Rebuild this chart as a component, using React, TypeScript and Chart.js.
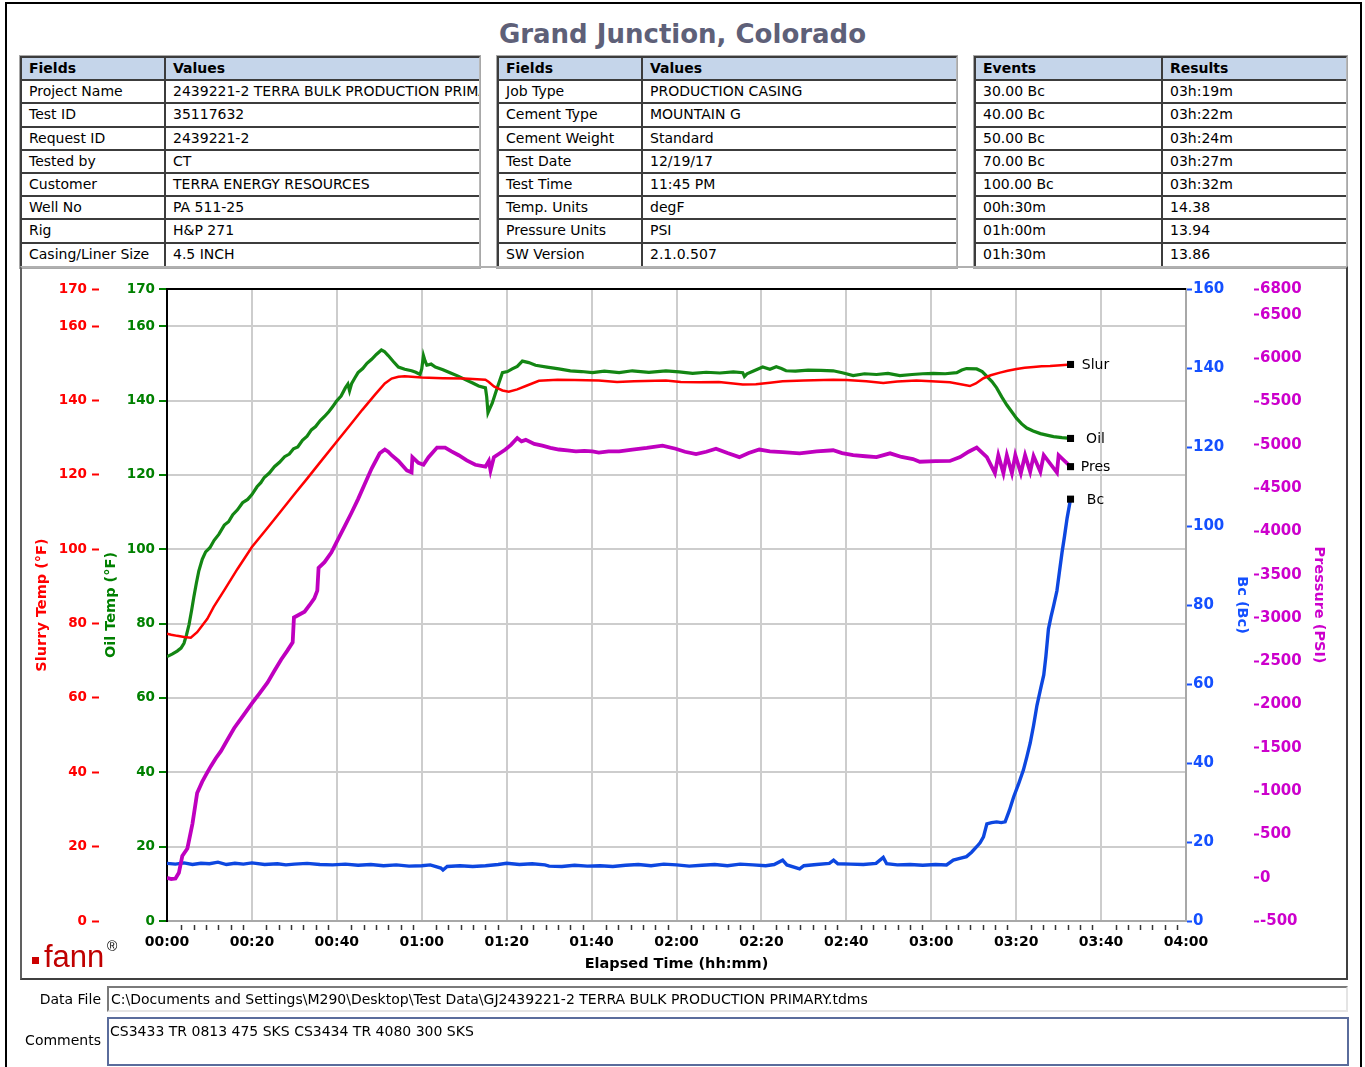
import React, { useEffect, useRef } from "react";
import { Chart, registerables } from "chart.js";

Chart.register(...registerables);

const FONT = '"DejaVu Sans", Verdana, sans-serif';

// ---------- table data ----------
const table1Head = ["Fields", "Values"];
const table1Fields = ["Project Name", "Test ID", "Request ID", "Tested by", "Customer", "Well No", "Rig", "Casing/Liner Size"];
const table1Values = ["2439221-2 TERRA BULK PRODUCTION PRIMARY", "35117632", "2439221-2", "CT", "TERRA ENERGY RESOURCES", "PA 511-25", "H&P 271", "4.5 INCH"];

const table2Head = ["Fields", "Values"];
const table2Fields = ["Job Type", "Cement Type", "Cement Weight", "Test Date", "Test Time", "Temp. Units", "Pressure Units", "SW Version"];
const table2Values = ["PRODUCTION CASING", "MOUNTAIN G", "Standard", "12/19/17", "11:45 PM", "degF", "PSI", "2.1.0.507"];

const table3Head = ["Events", "Results"];
const table3Events = ["30.00 Bc", "40.00 Bc", "50.00 Bc", "70.00 Bc", "100.00 Bc", "00h:30m", "01h:00m", "01h:30m"];
const table3Results = ["03h:19m", "03h:22m", "03h:24m", "03h:27m", "03h:32m", "14.38", "13.94", "13.86"];

// ---------- chart data (minutes / values) ----------
const slurTime = [0, 1, 2.4, 4, 5.6, 7.1, 8.3, 9.5, 11, 13.5, 16.6, 20, 23.7, 27, 30, 33, 36, 40, 43, 46, 49, 51.3, 52.9, 54.5, 56, 60, 65, 70, 75, 75.8, 77, 79, 80.5, 82.5, 84.5, 87.6, 92, 96, 101.7, 106, 110, 117.5, 121, 125.4, 130, 135.6, 138.7, 142, 145, 150, 156.9, 160, 164.7, 168.7, 172, 176.5, 180, 184.4, 189.1, 190.5, 192.3, 194, 196.2, 198, 200.1, 202, 204.1, 206, 208, 210.5, 212.8];
const slurTemp = [77.3, 77.0, 76.7, 76.4, 76.2, 77.7, 79.5, 81.3, 84.5, 89.0, 94.7, 100.6, 105.8, 110.5, 114.8, 119.0, 123.3, 129.0, 133.2, 137.5, 141.6, 144.6, 145.9, 146.4, 146.5, 146.2, 146.0, 145.9, 145.6, 145.0, 143.8, 142.7, 142.4, 143.0, 143.9, 145.3, 145.6, 145.5, 145.4, 145.0, 145.2, 145.4, 145.0, 144.9, 145.0, 144.3, 144.4, 144.8, 145.2, 145.4, 145.6, 145.5, 145.2, 144.7, 145.1, 145.4, 145.2, 144.9, 143.9, 144.6, 146.0, 146.8, 147.5, 148.0, 148.5, 148.8, 149.0, 149.2, 149.3, 149.5, 149.7];

const oilTime = [0, 1.2, 2.4, 3.3, 4, 4.6, 5.2, 5.8, 6.3, 6.9, 7.5, 8.3, 9.1, 10.1, 11.1, 12.2, 13.5, 14.5, 15.5, 16.6, 17.8, 19, 20, 21.2, 22.1, 22.9, 24.1, 25.3, 26.5, 27.7, 28.8, 29.8, 30.8, 31.9, 33, 34, 35, 36.1, 37.1, 38.1, 39, 39.9, 41, 42, 42.6, 43, 43.5, 44.2, 45, 46.1, 47.1, 48.2, 49.3, 50.5, 51.2, 52.1, 53.3, 54.5, 56, 57.6, 58.6, 59.6, 60, 60.4, 60.8, 61.2, 62.2, 63.2, 65, 66.8, 68.7, 70.5, 72, 73.4, 75, 75.3, 75.6, 76.1, 76.6, 77.8, 79, 80.2, 81.3, 82.5, 83.7, 85.2, 86.8, 89.5, 92.3, 95, 97.6, 100.2, 103, 106.5, 109.6, 113.5, 117.5, 120.6, 123.8, 127, 130.2, 133.4, 135.6, 136, 136.6, 138, 140.3, 142, 143.5, 144.7, 145.8, 148, 151, 154, 156.9, 159.3, 161.6, 164.3, 167.1, 169.8, 172.6, 175.5, 178, 180.5, 183.3, 186, 187.2, 188.3, 190.7, 192, 193.1, 194.3, 195.4, 196.6, 197.8, 199, 200.1, 201.3, 202.5, 204, 205.7, 207.2, 208.8, 210.8, 212.8];
const oilTemp = [71.1, 71.8, 72.6, 73.4, 74.7, 77.0, 79.8, 83.6, 87.0, 90.8, 94.2, 97.3, 99.3, 100.4, 102.4, 104.0, 106.5, 107.4, 109.3, 110.6, 112.5, 113.4, 114.7, 116.8, 117.9, 119.3, 120.5, 122.2, 123.4, 124.9, 125.6, 127.0, 127.5, 129.3, 130.4, 132.1, 133.0, 134.6, 135.7, 137.0, 138.3, 139.8, 141.2, 143.4, 144.4, 142.6, 144.6, 146.0, 147.5, 148.6, 150.0, 151.1, 152.4, 153.6, 153.2, 152.1, 150.5, 149.0, 148.4, 148.0, 147.6, 147.0, 148.5, 152.1, 150.6, 149.5, 149.8, 149.0, 148.3, 147.4, 146.5, 145.5, 144.7, 143.9, 143.4, 141.0, 136.7, 138.0, 139.3, 143.5, 147.5, 147.8, 148.5, 149.2, 150.6, 150.2, 149.5, 149.0, 148.5, 148.0, 147.8, 147.5, 147.9, 147.5, 148.0, 147.6, 148.0, 147.7, 147.3, 147.6, 147.4, 147.7, 147.5, 146.5, 147.2, 147.9, 149.0, 148.4, 149.1, 148.6, 148.0, 147.9, 148.2, 148.1, 148.0, 147.4, 146.7, 147.2, 147.0, 147.3, 146.7, 147.0, 147.2, 147.3, 147.2, 147.5, 148.2, 148.6, 148.5, 147.8, 146.5, 145.1, 143.4, 141.0, 138.8, 136.9, 135.2, 133.7, 132.6, 131.8, 131.1, 130.7, 130.3, 130.0, 129.8];

const presTime = [0, 1, 2, 2.8, 3.6, 4.8, 6, 7.1, 8.3, 9.3, 10.3, 11.5, 12.7, 14.2, 15.8, 17.9, 20, 21.8, 23.7, 25.3, 26.9, 28.3, 29.6, 29.9, 31.2, 32.4, 33.6, 34.7, 35.4, 35.7, 37.1, 38.7, 40.3, 41.9, 43.4, 45, 46.6, 48.2, 50.1, 51.3, 52.1, 52.9, 54.5, 56.5, 57.6, 57.8, 59.2, 60.4, 61.6, 63.6, 65.5, 67, 68.7, 70.6, 72.6, 75, 75.8, 76.2, 77, 78.3, 79.7, 81, 82.5, 83.5, 84.5, 86.5, 88.4, 90.3, 92.3, 94.3, 96.3, 98.3, 100.2, 101.7, 104, 106.5, 109.6, 113, 116.7, 119.8, 122, 124.6, 127, 129.3, 132, 134.8, 137, 139.5, 142, 145, 149, 153, 156.9, 159, 161.6, 164.5, 167.1, 170.3, 173, 175.7, 177.3, 181, 184.4, 186.8, 188.8, 190.7, 193.1, 195, 195.8, 197, 197.8, 199, 199.8, 201.1, 202.1, 203.3, 204.1, 205.7, 206.5, 209.6, 210, 212.8];
const presVal = [0, -15, -10, 57, 250, 338, 625, 978, 1110, 1200, 1286, 1380, 1462, 1590, 1727, 1870, 2014, 2130, 2256, 2390, 2521, 2620, 2719, 3006, 3040, 3072, 3150, 3226, 3315, 3579, 3645, 3756, 3910, 4064, 4210, 4373, 4550, 4726, 4902, 4946, 4920, 4880, 4814, 4704, 4682, 4858, 4792, 4770, 4858, 4968, 4968, 4925, 4880, 4820, 4770, 4748, 4814, 4704, 4858, 4900, 4946, 5000, 5079, 5040, 5057, 5010, 4990, 4965, 4946, 4935, 4924, 4930, 4924, 4911, 4925, 4924, 4946, 4965, 4990, 4955, 4920, 4893, 4920, 4955, 4905, 4858, 4905, 4946, 4925, 4915, 4902, 4925, 4937, 4905, 4880, 4868, 4858, 4902, 4860, 4836, 4805, 4812, 4814, 4858, 4920, 4968, 4858, 4673, 4880, 4673, 4880, 4673, 4880, 4673, 4880, 4690, 4870, 4690, 4880, 4680, 4880, 4748];

const bcTime = [0, 2, 4, 6, 8, 10, 12, 14, 16, 18, 20, 23, 26, 28, 30, 33, 36, 39, 42, 45, 48, 51, 54, 57, 60, 62, 64.5, 65, 66, 69, 72, 75, 78, 80, 83, 86, 89, 90, 93, 96, 99, 102, 105, 108, 111, 114, 117, 120, 123, 126, 129, 132, 135, 138, 141, 143, 145, 146, 149, 150, 153, 156, 157, 158, 161, 164, 167, 168.7, 169.5, 172, 175, 178, 181, 183.6, 185.2, 186.5, 188.3, 189.5, 190.7, 191.5, 192.3, 193.1, 194.2, 195.4, 196.5, 197.4, 198.4, 199.4, 200.5, 201.7, 202.5, 203.3, 204.1, 204.9, 205.7, 206.5, 207, 207.6, 208.2, 208.8, 209.6, 210.2, 210.8, 211.4, 212, 212.8];
const bcVal = [14.6, 14.4, 14.7, 14.3, 14.6, 14.5, 14.9, 14.3, 14.6, 14.4, 14.7, 14.3, 14.5, 14.2, 14.4, 14.6, 14.3, 14.2, 14.4, 14.1, 14.3, 14.0, 14.2, 13.9, 14.0, 14.2, 13.4, 12.9, 13.8, 14.0, 13.8, 14.0, 14.3, 14.6, 14.3, 14.5, 14.2, 13.9, 13.8, 14.1, 13.9, 14.0, 13.8, 14.1, 14.3, 14.0, 14.4, 14.2, 13.9, 14.1, 14.3, 14.0, 14.4, 14.2, 14.0, 14.3, 15.4, 14.2, 13.2, 14.0, 14.3, 14.6, 15.4, 14.5, 14.4, 14.3, 14.6, 16.1, 14.5, 14.2, 14.3, 14.1, 14.3, 14.2, 15.4, 15.8, 16.3, 17.4, 18.8, 19.8, 21.3, 24.6, 24.9, 25.1, 24.9, 25.1, 28.0, 31.4, 34.5, 38.2, 41.5, 45.0, 49.5, 54.6, 58.5, 62.3, 67.0, 73.9, 77.0, 79.7, 83.6, 88.5, 93.3, 97.5, 102.0, 106.8];

// ---------- axes ----------
const tempTicks = [0, 20, 40, 60, 80, 100, 120, 140, 160, 170];
const bcTicks = [0, 20, 40, 60, 80, 100, 120, 140, 160];
const presTicks = [-500, 0, 500, 1000, 1500, 2000, 2500, 3000, 3500, 4000, 4500, 5000, 5500, 6000, 6500, 6800];
const timeTicks = [0, 20, 40, 60, 80, 100, 120, 140, 160, 180, 200, 220, 240];

const minorTickMinutes: number[] = [];
for (let m = 0; m < 240; m += 20) {
  for (let k = 1; k <= 6; k++) minorTickMinutes.push(m + 0.5 + k * 2.9);
}

const fmtTime = (v: number) => {
  const h = Math.floor(v / 60);
  const m = Math.round(v % 60);
  return String(h).padStart(2, "0") + ":" + String(m).padStart(2, "0");
};

const toXY = (ts: number[], vs: number[]) => ts.map((t, i) => ({ x: t, y: vs[i] }));

const endPoint = (ctx: any) => (ctx.dataIndex === ctx.dataset.data.length - 1 ? 5 : 0);

const CANVAS_W = 1324;
const CANVAS_H = 710;

const frameLines = {
  id: "frameLines",
  afterDraw(chart: any) {
    const { ctx, chartArea, scales } = chart;
    ctx.save();
    ctx.strokeStyle = "#000";
    ctx.lineWidth = 2;
    ctx.beginPath();
    ctx.moveTo(chartArea.left - 1, chartArea.top);
    ctx.lineTo(chartArea.right, chartArea.top);
    ctx.stroke();
    const xs = scales.x;
    ctx.strokeStyle = "#333";
    ctx.lineWidth = 1.5;
    minorTickMinutes.forEach((v) => {
      const px = Math.round(xs.getPixelForValue(v)) + 0.5;
      ctx.beginPath();
      ctx.moveTo(px, chartArea.bottom + 4);
      ctx.lineTo(px, chartArea.bottom + 9);
      ctx.stroke();
    });
    ctx.fillStyle = "#000";
    ctx.font = "14px " + FONT;
    ctx.textAlign = "center";
    ctx.textBaseline = "middle";
    chart.data.datasets.forEach((ds: any, i: number) => {
      const meta = chart.getDatasetMeta(i);
      const last = meta.data[meta.data.length - 1];
      if (last) ctx.fillText(ds.label, last.x + 25, last.y + 1);
    });
    ctx.restore();
  },
};

const tickFont = { family: FONT, size: 13.5, weight: "bold" as const };
const rightTickFont = { family: FONT, size: 15, weight: "bold" as const };
const titleFont = { family: FONT, size: 14.5, weight: "bold" as const };

function TrendChart() {
  const ref = useRef<HTMLCanvasElement | null>(null);
  useEffect(() => {
    if (!ref.current) return;
    const chart = new Chart(ref.current, {
      type: "line",
      data: {
        datasets: [
          {
            label: "Slur",
            data: toXY(slurTime, slurTemp),
            yAxisID: "ySlur",
            borderColor: "#ff0000",
            borderWidth: 2.5,
            pointRadius: endPoint,
            pointStyle: "rect",
            pointBackgroundColor: "#000",
            pointBorderWidth: 0,
            tension: 0,
          },
          {
            label: "Oil",
            data: toXY(oilTime, oilTemp),
            yAxisID: "yOil",
            borderColor: "#138613",
            borderWidth: 3.2,
            pointRadius: endPoint,
            pointStyle: "rect",
            pointBackgroundColor: "#000",
            pointBorderWidth: 0,
            tension: 0,
          },
          {
            label: "Pres",
            data: toXY(presTime, presVal),
            yAxisID: "yPres",
            borderColor: "#bf00bf",
            borderWidth: 3.8,
            pointRadius: endPoint,
            pointStyle: "rect",
            pointBackgroundColor: "#000",
            pointBorderWidth: 0,
            tension: 0,
          },
          {
            label: "Bc",
            data: toXY(bcTime, bcVal),
            yAxisID: "yBc",
            borderColor: "#0d47e0",
            borderWidth: 3.4,
            pointRadius: endPoint,
            pointStyle: "rect",
            pointBackgroundColor: "#000",
            pointBorderWidth: 0,
            tension: 0,
          },
        ],
      },
      options: {
        responsive: false,
        animation: false,
        devicePixelRatio: 1,
        layout: { padding: { left: 8, right: 15, top: 21, bottom: 0 } },
        plugins: { legend: { display: false }, tooltip: { enabled: false } },
        scales: {
          x: {
            type: "linear",
            min: 0,
            max: 240,
            afterBuildTicks: (s: any) => {
              s.ticks = timeTicks.map((v) => ({ value: v }));
            },
            afterFit: (s: any) => {
              s.height = 57;
            },
            ticks: {
              callback: (v: any) => fmtTime(Number(v)),
              color: "#000",
              font: { family: FONT, size: 14, weight: "bold" },
              padding: 13,
              maxRotation: 0,
              autoSkip: false,
            },
            grid: { color: "#cdcdcd", lineWidth: 2, drawTicks: false },
            border: { display: true, color: "#a8a8a8", width: 2 },
            title: {
              display: true,
              text: "Elapsed Time (hh:mm)",
              color: "#000",
              font: titleFont,
              padding: { top: 2, bottom: 5 },
            },
          },
          ySlur: {
            type: "linear",
            position: "left",
            weight: 2,
            min: 0,
            max: 170,
            afterBuildTicks: (s: any) => {
              s.ticks = tempTicks.map((v) => ({ value: v }));
            },
            afterFit: (s: any) => {
              s.width = 69;
            },
            ticks: { color: "#ff0000", font: tickFont, padding: 5, callback: (v: any) => String(v) },
            grid: { drawOnChartArea: false, drawTicks: true, tickLength: 7, tickColor: "#ff0000", tickWidth: 2 },
            border: { display: false },
            title: { display: true, text: "Slurry Temp (°F)", color: "#ff0000", font: titleFont, padding: { top: 4, bottom: 0 } },
          },
          yOil: {
            type: "linear",
            position: "left",
            weight: 1,
            min: 0,
            max: 170,
            afterBuildTicks: (s: any) => {
              s.ticks = tempTicks.map((v) => ({ value: v }));
            },
            afterFit: (s: any) => {
              s.width = 68;
            },
            ticks: { color: "#008000", font: tickFont, padding: 4, callback: (v: any) => String(v) },
            grid: { drawOnChartArea: true, color: "#cdcdcd", lineWidth: 2, drawTicks: true, tickLength: 8, tickColor: "#008000", tickWidth: 2 },
            border: { display: true, color: "#000", width: 2 },
            title: { display: true, text: "Oil Temp (°F)", color: "#008000", font: titleFont, padding: { top: 4, bottom: 0 } },
          },
          yBc: {
            type: "linear",
            position: "right",
            weight: 0,
            min: 0,
            max: 160,
            afterBuildTicks: (s: any) => {
              s.ticks = bcTicks.map((v) => ({ value: v }));
            },
            afterFit: (s: any) => {
              s.width = 68;
            },
            ticks: { color: "#1450ff", font: rightTickFont, padding: 1, callback: (v: any) => String(v) },
            grid: { drawOnChartArea: false, drawTicks: true, tickLength: 6, tickColor: "#1450ff", tickWidth: 2 },
            border: { display: true, color: "#a8a8a8", width: 2 },
            title: { display: true, text: "Bc (Bc)", color: "#1450ff", font: titleFont, padding: { top: 4, bottom: 0 } },
          },
          yPres: {
            type: "linear",
            position: "right",
            weight: 1,
            min: -500,
            max: 6800,
            afterBuildTicks: (s: any) => {
              s.ticks = presTicks.map((v) => ({ value: v }));
            },
            afterFit: (s: any) => {
              s.width = 77;
            },
            ticks: { color: "#cc00cc", font: rightTickFont, padding: 1, callback: (v: any) => String(v) },
            grid: { drawOnChartArea: false, drawTicks: true, tickLength: 5, tickColor: "#cc00cc", tickWidth: 2 },
            border: { display: false },
            title: { display: true, text: "Pressure (PSI)", color: "#cc00cc", font: titleFont, padding: { top: 4, bottom: 0 } },
          },
        },
      } as any,
      plugins: [frameLines],
    });
    return () => chart.destroy();
  }, []);
  return (
    <canvas
      ref={ref}
      width={CANVAS_W}
      height={CANVAS_H}
      style={{ position: "absolute", left: 0, top: 0, width: CANVAS_W, height: CANVAS_H, display: "block" }}
    />
  );
}

function InfoTable(props: { left: number; top: number; w1: number; w2: number; head: string[]; col1: string[]; col2: string[] }) {
  const { left, top, w1, w2, head, col1, col2 } = props;
  const dark = "#3c3c3c";
  const rowH = 23.2;
  const cell = (text: string, w: number, first: boolean, header: boolean, lastRow: boolean) => (
    <div
      style={{
        width: w,
        height: rowH,
        boxSizing: "border-box",
        borderRight: first ? `2px solid ${dark}` : "none",
        borderBottom: lastRow ? "none" : `2px solid ${dark}`,
        paddingLeft: 7,
        lineHeight: rowH - 2 + "px",
        fontSize: 14,
        fontWeight: header ? "bold" : "normal",
        background: header ? "#c5d5ea" : "#fff",
        whiteSpace: "nowrap",
        overflow: "hidden",
        color: "#000",
      }}
    >
      {text}
    </div>
  );
  return (
    <div
      style={{
        position: "absolute",
        left,
        top,
        width: w1 + w2,
        boxSizing: "border-box",
        borderTop: `2px solid ${dark}`,
        borderLeft: `2px solid ${dark}`,
        borderRight: "1px solid #b8b8b8",
        borderBottom: "1px solid #b8b8b8",
        outline: "1px solid #a8a8a8",
        background: "#fff",
      }}
    >
      <div style={{ display: "flex" }}>
        {cell(head[0], w1 - 2, true, true, false)}
        {cell(head[1], w2 - 1, false, true, false)}
      </div>
      {col1.map((f, i) => (
        <div key={i} style={{ display: "flex" }}>
          {cell(f, w1 - 2, true, false, i === col1.length - 1)}
          {cell(col2[i], w2 - 1, false, false, i === col1.length - 1)}
        </div>
      ))}
    </div>
  );
}

export default function App() {
  return (
    <div
      style={{
        position: "absolute",
        left: 0,
        top: 0,
        width: 1365,
        height: 1067,
        overflow: "hidden",
        background: "#fff",
        fontFamily: FONT,
        color: "#000",
      }}
    >
      <div style={{ position: "absolute", left: 5, top: 2, width: 1357, height: 1080, borderLeft: "2px solid #000", borderTop: "2px solid #000", borderRight: "2px solid #000", boxSizing: "border-box" }} />
      <div style={{ position: "absolute", left: 0, top: 17, width: 1365, textAlign: "center", fontSize: 26, fontWeight: "bold", color: "#5e6078", lineHeight: "34px" }}>
        Grand Junction, Colorado
      </div>
      <InfoTable left={20} top={56} w1={146} w2={314} head={table1Head} col1={table1Fields} col2={table1Values} />
      <InfoTable left={497} top={56} w1={146} w2={314} head={table2Head} col1={table2Fields} col2={table2Values} />
      <InfoTable left={974} top={56} w1={189} w2={184} head={table3Head} col1={table3Events} col2={table3Results} />
      <div
        style={{
          position: "absolute",
          left: 20,
          top: 266,
          width: 1328,
          height: 714,
          boxSizing: "border-box",
          borderTop: "2px solid #b0b0b0",
          borderLeft: "2px solid #606060",
          borderRight: "2px solid #404040",
          borderBottom: "2px solid #404040",
        }}
      >
        <TrendChart />
        <div style={{ position: "absolute", left: 10, top: 689, width: 7, height: 7, background: "#cc0000" }} />
        <div style={{ position: "absolute", left: 22, top: 673, fontFamily: '"Liberation Sans", Arial, sans-serif', fontSize: 31, lineHeight: "31px", color: "#c00000" }}>
          fann
        </div>
        <div style={{ position: "absolute", left: 85, top: 671, fontFamily: '"Liberation Sans", Arial, sans-serif', fontSize: 14, lineHeight: "14px", color: "#000" }}>
          ®
        </div>
      </div>
      <div style={{ position: "absolute", left: 0, top: 987, width: 101, height: 24, lineHeight: "24px", textAlign: "right", fontSize: 14 }}>Data File</div>
      <div
        style={{
          position: "absolute",
          left: 107,
          top: 986,
          width: 1241,
          height: 26,
          boxSizing: "border-box",
          borderTop: "2px solid #7a7a7a",
          borderLeft: "2px solid #7a7a7a",
          borderRight: "2px solid #e4e4e4",
          borderBottom: "2px solid #e4e4e4",
          paddingLeft: 2,
          lineHeight: "22px",
          fontSize: 14,
          whiteSpace: "nowrap",
          overflow: "hidden",
        }}
      >
        C:\Documents and Settings\M290\Desktop\Test Data\GJ2439221-2 TERRA BULK PRODUCTION PRIMARY.tdms
      </div>
      <div style={{ position: "absolute", left: 0, top: 1028, width: 101, height: 24, lineHeight: "24px", textAlign: "right", fontSize: 14 }}>Comments</div>
      <div
        style={{
          position: "absolute",
          left: 107,
          top: 1017,
          width: 1242,
          height: 49,
          boxSizing: "border-box",
          border: "2px solid #5a6c9c",
          paddingLeft: 1,
          paddingTop: 2,
          lineHeight: "20px",
          fontSize: 14,
          whiteSpace: "nowrap",
        }}
      >
        CS3433 TR 0813 475 SKS CS3434 TR 4080 300 SKS
      </div>
    </div>
  );
}
